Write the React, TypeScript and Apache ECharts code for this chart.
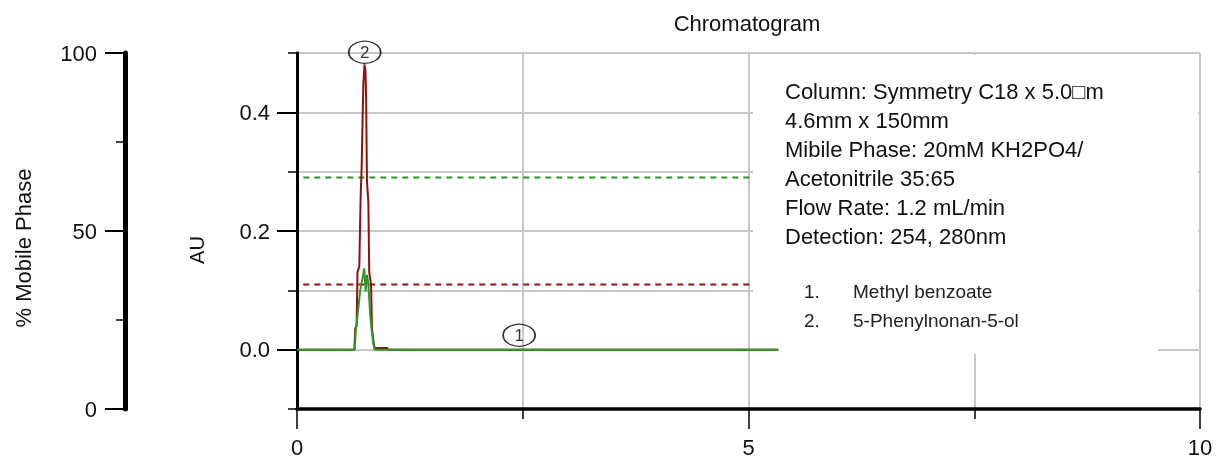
import React, { useEffect, useRef } from "react";
import * as echarts from "echarts";

const FONT = '"Liberation Sans", Arial, Helvetica, sans-serif';

// Chromatogram traces (time in min, absorbance in AU)
const redTime = [0, 0.635, 0.645, 0.66, 0.67, 0.69, 0.705, 0.715, 0.725, 0.735, 0.748, 0.758, 0.765, 0.775, 0.79, 0.8, 0.82, 0.83, 0.85, 0.86, 1.0, 1.01, 5.33];
const redAU = [0, 0, 0.036, 0.04, 0.131, 0.14, 0.26, 0.3, 0.378, 0.45, 0.481, 0.47, 0.428, 0.283, 0.25, 0.13, 0.11, 0.036, 0.01, 0.003, 0.003, 0, 0];
const greenTime = [0, 0.64, 0.65, 0.675, 0.7, 0.725, 0.745, 0.76, 0.775, 0.79, 0.81, 0.825, 0.845, 0.86, 5.33];
const greenAU = [0, 0, 0.03, 0.064, 0.1, 0.12, 0.137, 0.098, 0.126, 0.11, 0.06, 0.036, 0.01, 0, 0];

// Mobile phase composition (% on left axis)
const mpTime = [0.07, 5.03];
const acetonitrilePct = [65, 65];
const bufferPct = [35, 35];

// Peak markers
const peakLabels = ["1", "2"];
const peakTimes = [2.46, 0.75];
const peakHeights = [0.004, 0.481];

// Axis ticks
const auMajorTicks = [0, 0.2, 0.4];

const titleText = "Chromatogram";
const mpAxisName = "% Mobile Phase";
const auAxisName = "AU";
const infoLines = [
  "Column: Symmetry C18 x 5.0\u25A1m",
  "4.6mm x 150mm",
  "Mibile Phase: 20mM KH2PO4/",
  "Acetonitrile 35:65",
  "Flow Rate: 1.2 mL/min",
  "Detection: 254, 280nm",
];
const compoundNums = ["1.", "2."];
const compoundNames = ["Methyl benzoate", "5-Phenylnonan-5-ol"];

const zip = (a: number[], b: number[]) => a.map((v, i) => [v, b[i]]);

export default function App() {
  const ref = useRef<HTMLDivElement>(null);
  useEffect(() => {
    const chart = echarts.init(ref.current!, null, { renderer: "svg" });
    const axisLabelStyle = { fontSize: 22, color: "#111", fontFamily: FONT };
    const gridLine = { show: true, lineStyle: { color: "#c8c8c8", width: 2 } };

    const graphics: any[] = [
      { type: "rect", z: 1, silent: true, shape: { x: 753, y: 55, width: 405, height: 299 }, style: { fill: "#fff" } },
      { type: "rect", z: 1, silent: true, shape: { x: 1158, y: 55, width: 40, height: 293 }, style: { fill: "#fff" } },
      { type: "text", z: 5, x: 747, y: 23, style: { text: titleText, fontSize: 22, fontFamily: FONT, fill: "#111", align: "center", verticalAlign: "middle" } },
      { type: "text", z: 5, x: 23, y: 248, rotation: Math.PI / 2, style: { text: mpAxisName, fontSize: 22, fontFamily: FONT, fill: "#111", align: "center", verticalAlign: "middle" } },
      { type: "text", z: 5, x: 197, y: 250, rotation: Math.PI / 2, style: { text: auAxisName, fontSize: 20, fontFamily: FONT, fill: "#111", align: "center", verticalAlign: "middle" } },
    ];
    infoLines.forEach((t, i) => {
      graphics.push({ type: "text", z: 5, x: 785, y: 91 + 29 * i, style: { text: t, fontSize: 22, fontFamily: FONT, fill: "#111", align: "left", verticalAlign: "middle" } });
    });
    compoundNames.forEach((t, i) => {
      graphics.push({ type: "text", z: 5, x: 804, y: 291 + 29 * i, style: { text: compoundNums[i], fontSize: 19, fontFamily: FONT, fill: "#222", align: "left", verticalAlign: "middle" } });
      graphics.push({ type: "text", z: 5, x: 853, y: 291 + 29 * i, style: { text: t, fontSize: 19, fontFamily: FONT, fill: "#222", align: "left", verticalAlign: "middle" } });
    });

    chart.setOption({
      animation: false,
      grid: { left: 297, right: 21, top: 53, bottom: 53 },
      xAxis: {
        type: "value",
        min: 0,
        max: 10,
        interval: 5,
        axisLine: { show: true, onZero: false, lineStyle: { color: "#000", width: 3.5 } },
        axisTick: { show: true, length: 20, lineStyle: { color: "#000", width: 1.5 } },
        minorTick: { show: true, splitNumber: 2, length: 10, lineStyle: { color: "#000", width: 1.5 } },
        splitLine: gridLine,
        minorSplitLine: gridLine,
        axisLabel: { ...axisLabelStyle, margin: 27 },
      },
      yAxis: [
        {
          type: "value",
          min: -0.1,
          max: 0.5,
          interval: 0.1,
          position: "left",
          axisLine: { show: true, onZero: false, lineStyle: { color: "#000", width: 3 } },
          axisTick: { show: true, length: 9, lineStyle: { color: "#000", width: 1.5 } },
          splitLine: gridLine,
          axisLabel: {
            ...axisLabelStyle,
            margin: 27,
            formatter: (v: number) => {
              const k = Math.round(v * 10);
              return k >= 0 && k % 2 === 0 && k <= 4 ? (k / 10).toFixed(1) : "";
            },
          },
        },
        {
          type: "value",
          min: -0.1,
          max: 0.5,
          position: "left",
          axisLine: { show: true, onZero: false, lineStyle: { color: "#000", width: 3 } },
          axisTick: { show: true, customValues: auMajorTicks, length: 20, lineStyle: { color: "#000", width: 2 } },
          axisLabel: { show: false },
          splitLine: { show: false },
        },
        {
          type: "value",
          min: 0,
          max: 100,
          interval: 50,
          position: "left",
          offset: 172,
          axisLine: { show: true, onZero: false, lineStyle: { color: "#000", width: 5 } },
          axisTick: { show: true, length: 20, lineStyle: { color: "#000", width: 2 } },
          minorTick: { show: true, splitNumber: 2, length: 9, lineStyle: { color: "#000", width: 1.5 } },
          splitLine: { show: false },
          axisLabel: { ...axisLabelStyle, margin: 28 },
        },
      ],
      graphic: graphics,
      series: [
        {
          type: "line",
          name: "Acetonitrile %",
          yAxisIndex: 2,
          data: zip(mpTime, acetonitrilePct),
          showSymbol: false,
          lineStyle: { color: "#2a962a", width: 2, type: [6, 5] },
        },
        {
          type: "line",
          name: "Buffer %",
          yAxisIndex: 2,
          data: zip(mpTime, bufferPct),
          showSymbol: false,
          lineStyle: { color: "#9a1010", width: 2, type: [6, 5] },
        },
        {
          type: "line",
          name: "254nm",
          yAxisIndex: 0,
          data: zip(redTime, redAU),
          showSymbol: false,
          lineStyle: { color: "#8e1010", width: 2 },
        },
        {
          type: "line",
          name: "280nm",
          yAxisIndex: 0,
          data: zip(greenTime, greenAU),
          showSymbol: false,
          lineStyle: { color: "#2a982a", width: 2 },
        },
        {
          type: "scatter",
          name: "Peaks",
          yAxisIndex: 0,
          z: 4,
          data: peakTimes.map((t, i) => ({ value: [t, peakHeights[i]], name: peakLabels[i] })),
          symbol: "circle",
          symbolSize: [32, 22],
          symbolOffset: [0, -12],
          itemStyle: { color: "rgba(0,0,0,0)", borderColor: "#000", borderWidth: 1.5 },
          label: { show: true, position: "inside", formatter: (p: any) => p.name, fontSize: 17, color: "#000", fontFamily: FONT },
        },
      ],
    });
    return () => chart.dispose();
  }, []);
  return <div ref={ref} style={{ position: "fixed", left: 0, top: 0, width: 1221, height: 462 }} />;
}
